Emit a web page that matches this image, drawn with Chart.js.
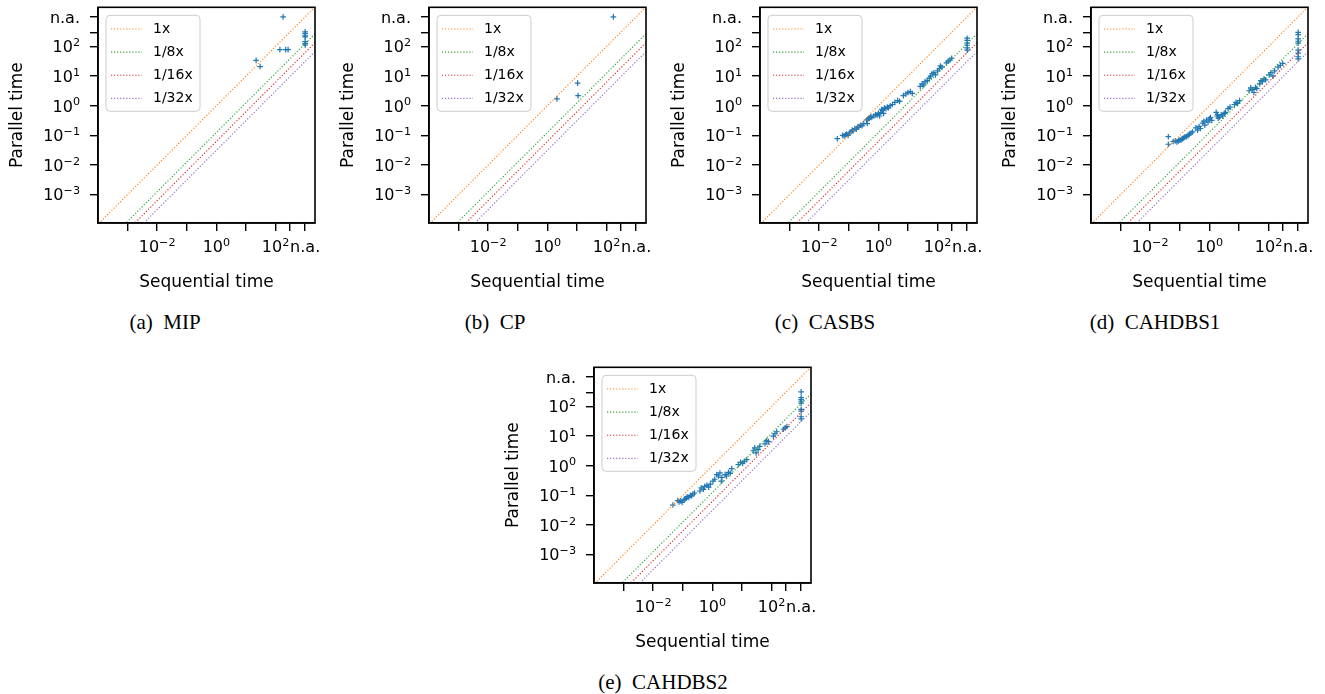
<!DOCTYPE html>
<html><head><meta charset="utf-8">
<script src="https://cdn.jsdelivr.net/npm/chart.js@4.4.1/dist/chart.umd.min.js"></script>
<style>
html,body{margin:0;padding:0;background:#fff;width:1325px;height:694px;overflow:hidden;position:relative;}
canvas.panel{position:absolute;}
.cap{position:absolute;font-family:"Liberation Serif","Times New Roman",serif;font-size:21px;color:#000;white-space:pre;transform:translate(-50%,-50%);line-height:1;}
</style></head><body>
<script>
// ---------------- data ----------------
const TICK_VALUES = [1e-3, 1e-2, 1e-1, 1, 10, 100, 300, 1000];
// "base^exponent" labels (exponent drawn raised and smaller)
const X_TICK_LABELS = ['', '10^−2', '', '10^0', '', '10^2', '', 'n.a.'];
const Y_TICK_LABELS = ['10^−3', '10^−2', '10^−1', '10^0', '10^1', '10^2', '', 'n.a.'];

const RATIOS = [1, 1/8, 1/16, 1/32];
const RATIO_LABELS = ['1x', '1/8x', '1/16x', '1/32x'];
const LINE_X = [1e-5, 1e4];

const PANEL_LETTERS = ['(a)', '(b)', '(c)', '(d)', '(e)'];
const PANEL_NAMES = ['MIP', 'CP', 'CASBS', 'CAHDBS1', 'CAHDBS2'];

// [sequential time, parallel time]; 1000 = n.a.
const mipPoints = [[180,1000],[1000,310],[1000,270],[1000,230],[1000,210],[1000,145],[1000,125],[1000,112],
  [140,78],[220,78],[265,78],[22,34],[30,21]];
const cpPoints = [[170,1000],[2.1,1.7],[10.5,5.8],[10.9,2.2]];
const casbsPoints = [[0.041,0.077],[0.062,0.1],[0.07,0.095],[0.078,0.105],[0.085,0.11],[0.095,0.1],[0.105,0.12],
  [0.12,0.13],[0.13,0.15],[0.14,0.14],[0.16,0.17],[0.18,0.16],[0.2,0.19],[0.22,0.2],[0.25,0.22],[0.28,0.21],
  [0.32,0.25],[0.4,0.33],[0.42,0.25],[0.45,0.36],[0.5,0.38],[0.55,0.42],[0.6,0.4],[0.7,0.45],[0.8,0.5],
  [0.9,0.48],[1.0,0.55],[1.1,0.45],[1.2,0.6],[1.3,0.75],[1.4,0.7],[1.5,0.55],[1.6,0.85],[1.8,0.8],[2.0,0.9],
  [2.2,0.85],[2.5,1.0],[3.0,1.1],[3.6,1.3],[4.5,1.5],[5.2,1.4],[7.0,2.2],[8.5,2.5],[10,2.8],[12,3.0],[14,2.6],
  [26,4.5],[30,5.5],[34,5.0],[38,6.5],[45,7.0],[52,8.5],[58,10],[65,12],[75,13],[85,11],[100,15],[115,18],
  [125,22],[140,20],[200,28],[230,32],[260,35],[300,40],
  [1000,75],[1000,90],[1000,110],[1000,130],[1000,160],[1000,190]];
const cahdbs1Points = [[0.041,0.09],[0.041,0.05],[0.06,0.062],[0.07,0.065],[0.08,0.06],[0.09,0.065],[0.1,0.07],
  [0.11,0.068],[0.12,0.075],[0.13,0.08],[0.14,0.085],[0.15,0.09],[0.17,0.09],[0.19,0.1],[0.21,0.11],[0.24,0.12],
  [0.27,0.13],[0.35,0.18],[0.4,0.15],[0.45,0.2],[0.5,0.17],[0.6,0.26],[0.65,0.3],[0.7,0.22],[0.8,0.33],
  [0.9,0.28],[1.0,0.36],[1.1,0.4],[1.2,0.32],[1.7,0.6],[1.8,0.45],[1.9,0.5],[2.0,0.38],[2.2,0.42],[2.5,0.5],
  [2.8,0.45],[3.2,0.55],[3.5,0.6],[4.3,0.8],[5.0,0.9],[7.0,1.1],[8.0,1.3],[9.0,1.2],[10.5,1.5],[22,3.2],
  [25,4.0],[28,3.5],[32,2.8],[36,4.2],[40,3.8],[50,5.5],[55,7.0],[62,6.5],[70,8.0],[80,7.5],[105,11],[120,13],
  [140,10],[160,15],[210,20],[250,23],[300,27],
  [1000,300],[1000,250],[1000,180],[1000,150],[1000,130],[1000,75],[1000,60],[1000,45],[1000,38]];
const cahdbs2Points = [[0.046,0.047],[0.068,0.067],[0.075,0.06],[0.085,0.065],[0.095,0.058],[0.11,0.07],
  [0.12,0.075],[0.13,0.08],[0.14,0.09],[0.16,0.085],[0.18,0.1],[0.2,0.095],[0.22,0.11],[0.25,0.12],[0.38,0.14],
  [0.42,0.18],[0.5,0.16],[0.55,0.2],[0.65,0.22],[0.75,0.19],[0.85,0.24],[1.05,0.3],[1.2,0.35],[1.4,0.5],
  [1.6,0.45],[1.8,0.57],[2.0,0.3],[2.1,0.4],[2.7,0.5],[3.0,0.45],[3.5,0.6],[4.0,0.55],[4.5,0.8],[7.5,1.1],
  [9,1.3],[10.5,1.2],[12,1.4],[14.5,1.6],[24,3.2],[27,4.0],[30,2.7],[35,3.5],[40,4.5],[60,5.5],[68,7.0],
  [78,6.5],[115,10],[130,12],[150,14],[250,17],[290,19],[330,21],
  [1000,310],[1000,200],[1000,170],[1000,150],[1000,130],[1000,80],[1000,70],[1000,45],[1000,38]];
const PANEL_DATA = [mipPoints, cpPoints, casbsPoints, cahdbs1Points, cahdbs2Points];

// ---------------- layout / style ----------------
const RATIO_COLORS = ['#ff7f0e', '#2ca02c', '#d62728', '#9467bd'];
const PANEL_LEFT = [0, 331, 662, 993, 496];
const PANEL_TOP = [0, 0, 0, 0, 360];
const CAP_X = [165, 495, 825, 1155, 663];
const CAP_Y = [322, 322, 322, 322, 682];
const CW = 330, CH = 300;
const FONT = 'DejaVu Sans';
const TICK_FONT = 16;

const framePlugin = {
  id: 'frame',
  afterDatasetsDraw(chart) {
    const a = chart.chartArea, ctx = chart.ctx;
    ctx.save();
    ctx.strokeStyle = '#000'; ctx.lineWidth = 1.6;
    ctx.strokeRect(a.left, a.top, a.right - a.left, a.bottom - a.top);
    ctx.restore();
  }
};

// tick labels in "10^n" form with a raised, smaller exponent, placed at the scale's own tick pixels
const mathTicks = {
  id: 'mathTicks',
  afterDraw(chart) {
    const ctx = chart.ctx, F = TICK_FONT, FE = F * 0.7;
    const draw = (label, x, y, align) => {
      const parts = label.split('^');
      const base = parts[0], exp = parts[1] || '';
      ctx.font = F + 'px "' + FONT + '"';
      const wb = ctx.measureText(base).width;
      let we = 0;
      if (exp) { ctx.font = FE + 'px "' + FONT + '"'; we = ctx.measureText(exp).width; }
      const x0 = align === 'center' ? x - (wb + we) / 2 : x - (wb + we);
      ctx.textAlign = 'left'; ctx.textBaseline = 'alphabetic'; ctx.fillStyle = '#000';
      ctx.font = F + 'px "' + FONT + '"';
      ctx.fillText(base, x0, y);
      if (exp) { ctx.font = FE + 'px "' + FONT + '"'; ctx.fillText(exp, x0 + wb, y - 0.38 * F); }
    };
    const xs = chart.scales.x, ys = chart.scales.y;
    ctx.save();
    TICK_VALUES.forEach((v, i) => {
      if (X_TICK_LABELS[i]) draw(X_TICK_LABELS[i], xs.getPixelForValue(v), xs.top + 29, 'center');
      if (Y_TICK_LABELS[i]) draw(Y_TICK_LABELS[i], ys.right - 18, ys.getPixelForValue(v) + 5.8, 'right');
    });
    ctx.restore();
  }
};

const innerLegend = {
  id: 'innerLegend',
  afterDraw(chart) {
    const a = chart.chartArea, ctx = chart.ctx;
    const items = chart.data.datasets.filter(d => d.inLegend);
    const x0 = a.left + 8, y0 = a.top + 8, w = 94, h = 96, r = 4;
    ctx.save();
    ctx.beginPath();
    ctx.moveTo(x0 + r, y0); ctx.lineTo(x0 + w - r, y0); ctx.arcTo(x0 + w, y0, x0 + w, y0 + r, r);
    ctx.lineTo(x0 + w, y0 + h - r); ctx.arcTo(x0 + w, y0 + h, x0 + w - r, y0 + h, r);
    ctx.lineTo(x0 + r, y0 + h); ctx.arcTo(x0, y0 + h, x0, y0 + h - r, r);
    ctx.lineTo(x0, y0 + r); ctx.arcTo(x0, y0, x0 + r, y0, r); ctx.closePath();
    ctx.fillStyle = 'rgba(255,255,255,0.8)'; ctx.fill();
    ctx.strokeStyle = '#cccccc'; ctx.lineWidth = 1; ctx.stroke();
    items.forEach((d, i) => {
      const cy = a.top + 21.7 + i * 23.1;
      ctx.beginPath();
      ctx.setLineDash(d.borderDash); ctx.lineWidth = d.borderWidth; ctx.strokeStyle = d.borderColor;
      ctx.moveTo(a.left + 13, cy); ctx.lineTo(a.left + 44, cy); ctx.stroke();
      ctx.setLineDash([]);
      ctx.fillStyle = '#000'; ctx.font = '14px "' + FONT + '"';
      ctx.textBaseline = 'middle'; ctx.textAlign = 'left';
      ctx.fillText(d.label, a.left + 55, cy + 0.5);
    });
    ctx.restore();
  }
};

function setTicks(scale) { scale.ticks = TICK_VALUES.map(v => ({ value: v })); }
const gridOpts = { display: true, drawOnChartArea: false, drawTicks: true, tickLength: 8, tickWidth: 1.4, tickColor: '#000', color: '#000', lineWidth: 1.4 };
const borderOpts = { display: true, color: '#000', width: 1.6 };

PANEL_DATA.forEach((pts, p) => {
  const cv = document.createElement('canvas');
  cv.className = 'panel'; cv.width = CW; cv.height = CH;
  cv.style.left = PANEL_LEFT[p] + 'px'; cv.style.top = PANEL_TOP[p] + 'px';
  cv.style.width = CW + 'px'; cv.style.height = CH + 'px';
  document.body.appendChild(cv);

  const lineSets = RATIOS.map((r, i) => ({
    type: 'line', label: RATIO_LABELS[i], inLegend: true,
    data: LINE_X.map(x => ({ x: x, y: x * r })),
    borderColor: RATIO_COLORS[i], borderWidth: 1.15, borderDash: [1.15, 1.9],
    pointRadius: 0, fill: false, order: 0
  }));
  const scatterSet = {
    type: 'scatter', label: PANEL_NAMES[p],
    data: pts.map(([x, y]) => ({ x: x, y: y })),
    pointStyle: 'cross', pointRadius: 2.8, pointBorderWidth: 1.2,
    borderColor: '#1f77b4', backgroundColor: '#1f77b4', order: 1
  };

  new Chart(cv, {
    type: 'scatter',
    data: { datasets: [...lineSets, scatterSet] },
    options: {
      responsive: false, animation: false, devicePixelRatio: 1,
      layout: { padding: { left: 0, top: 7.3, right: 15, bottom: 0 } },
      plugins: { legend: { display: false }, tooltip: { enabled: false } },
      scales: {
        x: {
          type: 'logarithmic', min: 1e-4, max: 2150,
          afterBuildTicks: setTicks,
          afterFit(s) { s.height = 77; s.paddingLeft = 0; s.paddingRight = 0; },
          ticks: { display: false, autoSkip: false, maxRotation: 0, minRotation: 0 },
          grid: gridOpts, border: borderOpts,
          title: { display: true, text: 'Sequential time', color: '#000', font: { family: FONT, size: 17 },
                   padding: { top: 0, bottom: 6.8 } }
        },
        y: {
          type: 'logarithmic', min: 1.1e-4, max: 2100,
          afterBuildTicks: setTicks,
          afterFit(s) { s.width = 98; s.paddingTop = 0; s.paddingBottom = 0; },
          ticks: { display: false, autoSkip: false },
          grid: gridOpts, border: borderOpts,
          title: { display: true, text: 'Parallel time', color: '#000', font: { family: FONT, size: 17 },
                   padding: { top: 7.8, bottom: 0 } }
        }
      }
    },
    plugins: [framePlugin, mathTicks, innerLegend]
  });

  const cap = document.createElement('div');
  cap.className = 'cap';
  cap.textContent = PANEL_LETTERS[p] + '  ' + PANEL_NAMES[p];
  cap.style.left = CAP_X[p] + 'px'; cap.style.top = CAP_Y[p] + 'px';
  document.body.appendChild(cap);
});
</script>
</body></html>
